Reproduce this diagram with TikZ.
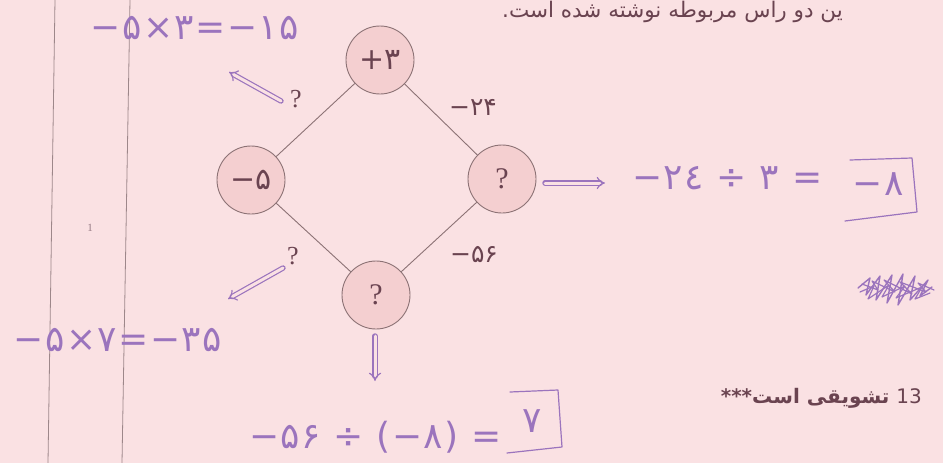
\documentclass[tikz,border=0pt]{standalone}
\usepackage{fontspec}
\setmainfont{DejaVu Sans}
\newfontfamily\fa[Script=Arabic]{DejaVu Sans}
\newfontfamily\numf{DejaVu Sans}
\newfontfamily\handf[LetterSpace=4]{DejaVu Sans}
\newfontfamily\serifA{Liberation Serif}
\TeXXeTstate=1
\usetikzlibrary{arrows.meta}
\definecolor{paper}{HTML}{FAE1E3}
\definecolor{disc}{HTML}{F4CFD0}
\definecolor{rim}{HTML}{8C7275}
\definecolor{ink}{HTML}{9B74BD}
\definecolor{printc}{HTML}{6A4350}
\begin{document}
\begin{tikzpicture}[x=1pt,y=-1pt,
  vert/.style={circle,draw=rim,fill=disc,line width=0.9pt,minimum size=68pt,inner sep=0pt,text=printc,font=\numf\fontsize{30}{30}\selectfont},
  qm/.style={font=\serifA\fontsize{30}{30}\selectfont},
  edge/.style={draw=rim,line width=0.9pt},
  elab/.style={text=printc,font=\numf\fontsize{25}{25}\selectfont,inner sep=0pt},
  hand/.style={text=ink,font=\handf\fontsize{36}{36}\selectfont,inner sep=0pt},
  harrow/.style={draw=ink,double=paper,double distance=3pt,line width=1.2pt,-{Implies[scale=1.5]},line cap=round},
  pen/.style={draw=ink,line width=1.2pt,line cap=round,line join=round},
  rulel/.style={draw=rim!85,line width=0.8pt}]
\fill[paper] (0,0) rectangle (943,463);
\useasboundingbox (0,0) rectangle (943,463);
% margin rules
\draw[rulel] (55,0) -- (48,463);
\draw[rulel] (130,0) -- (122,463);
\node[text=printc!70,font=\serifA\fontsize{11}{11}\selectfont] (one) at (90,228) {1};
% header text
\node[anchor=base east,text=printc,font=\fa\fontsize{21.5}{21.5}\selectfont,inner sep=0pt] (hdr) at (843,17) {\beginR ین دو راس مربوطه نوشته شده است.\endR};
% diagram
\node[vert] (top) at (380,60) {+۳};
\node[vert] (left) at (251,180) {−۵};
\node[vert,qm] (right) at (502,179) {?};
\node[vert,qm] (bot) at (376,295) {?};
\draw[edge] (top) -- (left);
\draw[edge] (top) -- (right);
\draw[edge] (left) -- (bot);
\draw[edge] (right) -- (bot);
\node[elab,font=\serifA\fontsize{26}{26}\selectfont] (q1) at (296,99) {?};
\node[elab] (w1) at (473,107) {−۲۴};
\node[elab,font=\serifA\fontsize{26}{26}\selectfont] (q2) at (293,256) {?};
\node[elab] (w2) at (474,255) {−۵۶};
% handwritten work
\node[hand] (e1) at (195,28) {−۵×۳=−۱۵};
\node[hand] (e2) at (118,340) {−۵×۷=−۳۵};
\node[hand,anchor=west] (e3) at (632,178) {−۲٤ ÷ ۳ =};
\node[hand] (e3b) at (878,184) {−۸};
\node[hand,anchor=east] (e4) at (502,437) {−۵۶ ÷ (−۸) =};
\node[hand] (ans) at (532,421) {۷};
\coordinate (a1s) at (281,101); \coordinate (a1e) at (229,72);
\coordinate (a2s) at (545,183); \coordinate (a2e) at (605,183);
\coordinate (a3s) at (283,268); \coordinate (a3e) at (228,299);
\coordinate (a4s) at (375,336); \coordinate (a4e) at (375,381);
\draw[harrow] (a1s) -- (a1e);
\draw[harrow] (a2s) -- (a2e);
\draw[harrow] (a3s) -- (a3e);
\draw[harrow] (a4s) -- (a4e);
\draw[pen] (850,160) -- (912,158) -- (917,212) -- (845,221);
\draw[pen] (510,392) -- (558,390) -- (562,447) -- (507,453);
% scribble
\draw[pen,line width=1.4pt] (858,288) -- (870,278) -- (866,295) -- (880,276) -- (876,300) -- (892,275) -- (887,303) -- (903,274) -- (898,305) -- (915,276) -- (910,300) -- (928,280) -- (920,296) -- (932,287);
\draw[pen,line width=1.2pt] (862,284) -- (878,290) -- (872,281) -- (895,292) -- (884,280) -- (912,294) -- (900,282) -- (926,292) -- (918,283) -- (934,290);
\draw[pen,line width=1.2pt] (860,292) -- (874,286) -- (868,299) -- (889,285) -- (882,297) -- (905,286) -- (896,298) -- (922,287) -- (915,299) -- (930,293);
% note
\node[anchor=east,text=printc,font=\fa\bfseries\fontsize{20}{20}\selectfont,inner sep=0pt] (note) at (922,398) {\beginR\beginL{\mdseries 13}\endL{} تشویقی است***\endR};
\end{tikzpicture}
\end{document}
